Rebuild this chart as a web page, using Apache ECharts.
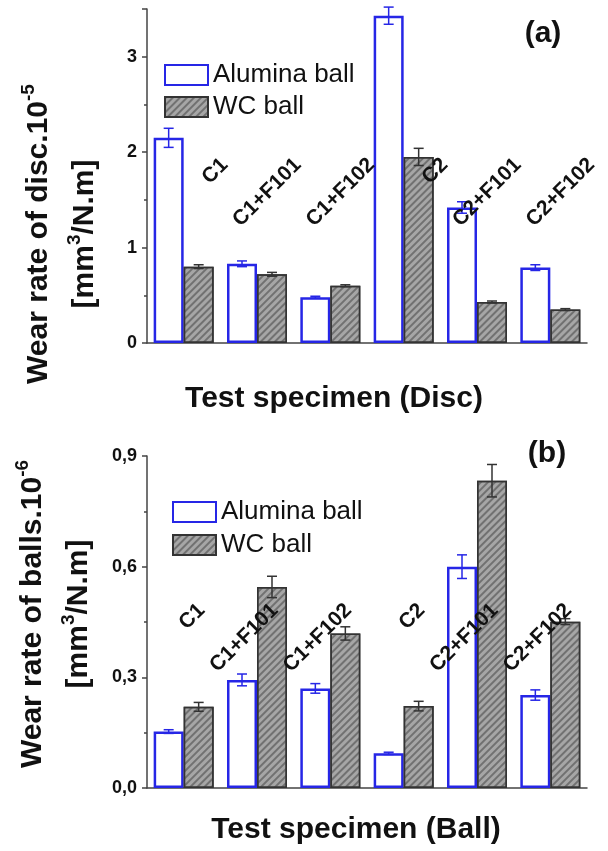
<!DOCTYPE html>
<html>
<head>
<meta charset="utf-8">
<script src="https://cdn.jsdelivr.net/npm/echarts@6/dist/echarts.min.js"></script>
<style>
  html, body { margin: 0; padding: 0; background: #fff; }
  #chart { width: 608px; height: 851px; }
</style>
</head>
<body>
<div id="chart"></div>
<script>
// specimens on the x axis
const specimens = ['C1', 'C1+F101', 'C1+F102', 'C2', 'C2+F101', 'C2+F102'];

// (a) wear rate of disc, x10^-5 mm3/N.m
const discAlumina = [2.15, 0.83, 0.48, 3.43, 1.42, 0.79];
const discAluminaErr = [0.10, 0.03, 0.01, 0.09, 0.06, 0.03];
const discWC = [0.80, 0.72, 0.60, 1.95, 0.43, 0.35];
const discWCErr = [0.02, 0.02, 0.01, 0.09, 0.01, 0.01];

// (b) wear rate of balls, x10^-6 mm3/N.m
const ballAlumina = [0.153, 0.293, 0.270, 0.094, 0.600, 0.252];
const ballAluminaErr = [0.005, 0.016, 0.013, 0.003, 0.032, 0.014];
const ballWC = [0.220, 0.545, 0.419, 0.222, 0.833, 0.451];
const ballWCErr = [0.012, 0.029, 0.018, 0.013, 0.044, 0.008];

const FONT = 'Liberation Sans, Arial, sans-serif';
const BLUE = '#2626e6';
const DARK = '#333';
const BAR_W = 30;

let chart = echarts.init(document.getElementById('chart'));

// error bars drawn on top of the bars, side -1 = left bar, +1 = right bar
const errorSeries = (g, vals, errs, color, side) => ({
    type: 'custom',
    xAxisIndex: g * 2,
    yAxisIndex: g,
    z: 5,
    silent: true,
    data: vals.map((v, i) => [i, v, errs[i]]),
    renderItem: (params, api) => {
        let v = api.value(1), e = api.value(2);
        let x = api.coord([api.value(0), v])[0] + side * BAR_W / 2;
        let top = api.coord([api.value(0), v + e])[1];
        let bot = api.coord([api.value(0), v - e])[1];
        let st = { stroke: color, lineWidth: 1.5 };
        return {
            type: 'group',
            children: [
                { type: 'line', shape: { x1: x, y1: top, x2: x, y2: bot }, style: st },
                { type: 'line', shape: { x1: x - 5, y1: top, x2: x + 5, y2: top }, style: st },
                { type: 'line', shape: { x1: x - 5, y1: bot, x2: x + 5, y2: bot }, style: st }
            ]
        };
    }
});

// rotated specimen names, anchored by their end
const nameSeries = (g, level, dx) => ({
    type: 'custom',
    xAxisIndex: g * 2,
    yAxisIndex: g,
    z: 6,
    silent: true,
    data: specimens.map((s, i) => [i, level]),
    renderItem: (params, api) => {
        let p = api.coord([api.value(0), api.value(1)]);
        return {
            type: 'text',
            x: p[0] + dx,
            y: p[1],
            rotation: Math.PI / 4,
            style: {
                text: specimens[params.dataIndex],
                align: 'right',
                verticalAlign: 'middle',
                fontSize: 21,
                fontWeight: 'bold',
                fontFamily: FONT,
                fill: '#111'
            }
        };
    }
});

const hatch = {
    symbol: 'rect',
    dashArrayX: [1, 0],
    dashArrayY: [2, 3],
    rotation: -Math.PI / 4,
    color: 'rgba(70,70,70,0.55)'
};

const xAxes = g => [
    {
        gridIndex: g,
        type: 'category',
        data: specimens,
        axisLine: { lineStyle: { color: '#444', width: 1.5 } },
        axisTick: { alignWithLabel: true, length: 5, lineStyle: { color: '#444', width: 1.5 } },
        axisLabel: { show: false }
    },
    {
        // small ticks between the groups
        gridIndex: g,
        type: 'category',
        data: specimens,
        position: 'bottom',
        axisLine: { show: false },
        axisTick: { length: 2, lineStyle: { color: '#444', width: 2 } },
        axisLabel: { show: false }
    }
];

const yAxis = (g, max, interval, showMax, fmt) => ({
    gridIndex: g,
    type: 'value',
    min: 0,
    max: max,
    interval: interval,
    axisLine: { show: true, lineStyle: { color: '#444', width: 1.5 } },
    axisTick: { show: true, length: 5, lineStyle: { color: '#444', width: 1.5 } },
    minorTick: { show: true, splitNumber: 2, length: 3, lineStyle: { color: '#444', width: 1.5 } },
    splitLine: { show: false },
    axisLabel: {
        showMaxLabel: showMax,
        fontSize: 18,
        fontWeight: 'bold',
        fontFamily: FONT,
        color: '#111',
        margin: 10,
        formatter: fmt
    }
});

const barSeries = (g, name, vals, itemStyle) => ({
    name: name,
    type: 'bar',
    xAxisIndex: g * 2,
    yAxisIndex: g,
    barWidth: BAR_W,
    barGap: '0%',
    data: vals,
    itemStyle: itemStyle
});

const alumStyle = { color: '#fff', borderColor: BLUE, borderWidth: 2.5 };
const wcStyle = { color: '#a6a6a6', borderColor: DARK, borderWidth: 1.5, decal: hatch };

const legend = (left, top, gap) => ({
    orient: 'vertical',
    left: left,
    top: top,
    itemWidth: 43,
    itemHeight: 20,
    itemGap: gap,
    icon: 'rect',
    selectedMode: false,
    data: ['Alumina ball', 'WC ball'],
    textStyle: { fontSize: 26, color: '#111', fontFamily: FONT }
});

const richSup = {
    s: { fontSize: 19, fontWeight: 'bold', fontFamily: FONT, verticalAlign: 'top', lineHeight: 22, padding: [3, 0, 0, 0] }
};

const bigText = (x, y, text, rot) => ({
    type: 'text',
    x: x,
    y: y,
    rotation: rot || 0,
    style: {
        text: text,
        align: 'center',
        verticalAlign: 'middle',
        fontSize: 30,
        fontWeight: 'bold',
        fontFamily: FONT,
        fill: '#111',
        lineHeight: 46,
        rich: richSup
    }
});

chart.setOption({
    animation: false,
    backgroundColor: '#fff',
    grid: [
        { left: 147, right: 21, top: 9, bottom: 508 },
        { left: 147, right: 21, top: 456, bottom: 63 }
    ],
    xAxis: [...xAxes(0), ...xAxes(1)],
    yAxis: [
        yAxis(0, 3.5, 1, false, v => String(v)),
        yAxis(1, 0.9, 0.3, true, v => v.toFixed(1).replace('.', ','))
    ],
    legend: [legend(159, 57, 6), legend(167, 494, 7)],
    graphic: [
        bigText(543, 34, '(a)'),
        bigText(547, 454, '(b)'),
        bigText(334, 399, 'Test specimen (Disc)'),
        bigText(356, 830, 'Test specimen (Ball)'),
        bigText(62, 234, 'Wear rate of disc.10{s|-5}\n[mm{s|3}/N.m]', Math.PI / 2),
        bigText(56, 614, 'Wear rate of balls.10{s|-6}\n[mm{s|3}/N.m]', Math.PI / 2)
    ],
    series: [
        barSeries(0, 'Alumina ball', discAlumina, alumStyle),
        barSeries(0, 'WC ball', discWC, wcStyle),
        errorSeries(0, discAlumina, discAluminaErr, BLUE, -1),
        errorSeries(0, discWC, discWCErr, DARK, 1),
        nameSeries(0, 1.9, 41),
        barSeries(1, 'Alumina ball', ballAlumina, alumStyle),
        barSeries(1, 'WC ball', ballWC, wcStyle),
        errorSeries(1, ballAlumina, ballAluminaErr, BLUE, -1),
        errorSeries(1, ballWC, ballWCErr, DARK, 1),
        nameSeries(1, 0.49, 18)
    ]
});
</script>
</body>
</html>
